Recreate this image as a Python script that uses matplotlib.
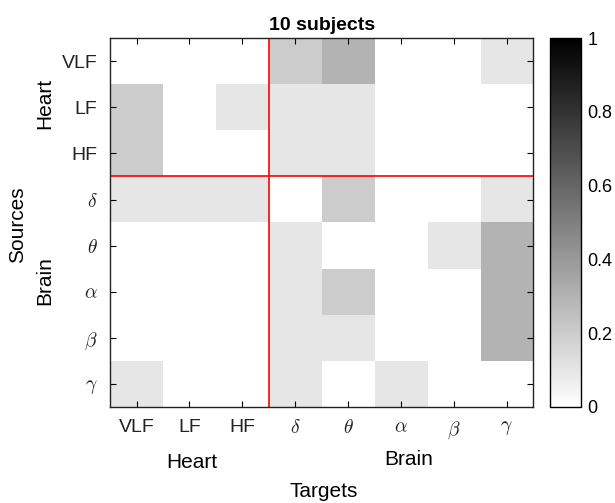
import numpy as np
import matplotlib
matplotlib.use('Agg')
import matplotlib.pyplot as plt

plt.rcParams['font.family'] = ['Liberation Sans', 'DejaVu Sans']
plt.rcParams['mathtext.fontset'] = 'cm'

# bandes : coeur puis cerveau
labels = ['VLF', 'LF', 'HF', r'$\delta$', r'$\theta$', r'$\alpha$', r'$\beta$', r'$\gamma$']

# fraction des sujets (lignes = sources, colonnes = cibles)
vals = np.array([
    [0.0, 0.0, 0.0, 0.2, 0.3, 0.0, 0.0, 0.1],   # VLF
    [0.2, 0.0, 0.1, 0.1, 0.1, 0.0, 0.0, 0.0],   # LF
    [0.2, 0.0, 0.0, 0.1, 0.1, 0.0, 0.0, 0.0],   # HF
    [0.1, 0.1, 0.1, 0.0, 0.2, 0.0, 0.0, 0.1],   # delta
    [0.0, 0.0, 0.0, 0.1, 0.0, 0.0, 0.1, 0.3],   # theta
    [0.0, 0.0, 0.0, 0.1, 0.2, 0.0, 0.0, 0.3],   # alpha
    [0.0, 0.0, 0.0, 0.1, 0.1, 0.0, 0.0, 0.3],   # beta
    [0.1, 0.0, 0.0, 0.1, 0.0, 0.1, 0.0, 0.0],   # gamma
])
n_heart = 3

fig = plt.figure(figsize=(6.15, 5.03), dpi=100)
ax = fig.add_axes([0.179, 0.191, 0.688, 0.733])
cax = fig.add_axes([0.894, 0.191, 0.050, 0.733])

n = len(labels)
im = ax.imshow(vals, cmap='gray_r', vmin=0, vmax=1, aspect='auto',
               extent=(0.5, n + 0.5, n + 0.5, 0.5), interpolation='nearest')
ax.axvline(n_heart + 0.5, color='red', lw=1.2)
ax.axhline(n_heart + 0.5, color='red', lw=1.2)

ticks = np.arange(1, n + 1)
ax.set_xticks(ticks)
ax.set_yticks(ticks)
ax.set_xticklabels(labels, fontsize=14, color='#222222')
ax.set_yticklabels(labels, fontsize=14, color='#222222')
ax.tick_params(direction='in', top=True, right=True, length=4, width=0.8, pad=9)
for s in ax.spines.values():
    s.set_linewidth(1.0)
    s.set_color('#222222')

ax.set_title('10 subjects', fontsize=14, fontweight='bold', pad=6)

# etiquettes de groupe
fig.text(0.312, 0.080, 'Heart', fontsize=15, ha='center', va='center')
fig.text(0.664, 0.086, 'Brain', fontsize=15, ha='center', va='center')
fig.text(0.527, 0.022, 'Targets', fontsize=15, ha='center', va='center')
fig.text(0.073, 0.795, 'Heart', fontsize=15, ha='center', va='center', rotation=90)
fig.text(0.073, 0.443, 'Brain', fontsize=15, ha='center', va='center', rotation=90)
fig.text(0.028, 0.553, 'Sources', fontsize=15, ha='center', va='center', rotation=90)

cb = fig.colorbar(im, cax=cax)
cb.set_ticks([0, 0.2, 0.4, 0.6, 0.8, 1])
cb.set_ticklabels(['0', '0.2', '0.4', '0.6', '0.8', '1'])
cax.tick_params(labelsize=13, direction='in', length=0, pad=5)
cb.outline.set_linewidth(1.0)

fig.savefig('out.png', dpi=100)
